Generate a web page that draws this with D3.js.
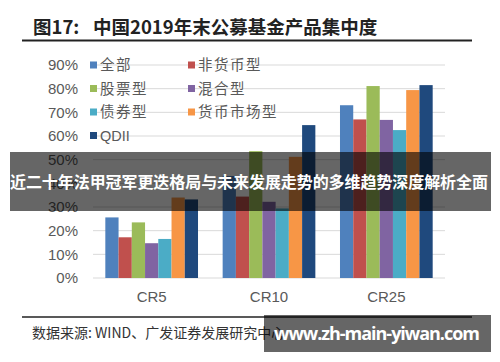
<!DOCTYPE html>
<html>
<head>
<meta charset="utf-8">
<script src="https://cdn.jsdelivr.net/npm/d3@7/dist/d3.min.js"></script>
<style>
  body { margin: 0; background: #fff; }
  svg { display: block; }
</style>
</head>
<body>
<div id="chart"></div>
<script>
// data
var categories = ["CR5", "CR10", "CR25"];
var seriesNames = ["全部", "非货币型", "股票型", "混合型", "债券型", "货币市场型", "QDII"];
var seriesColors = ["#4F81BD", "#C0504D", "#9BBB59", "#8064A2", "#4BACC6", "#F79646", "#1F497D"];
var quanbu     = [0.256, 0.431, 0.730];
var feihuobi   = [0.172, 0.344, 0.670];
var gupiao     = [0.235, 0.536, 0.811];
var hunhe      = [0.147, 0.322, 0.668];
var zhaiquan   = [0.165, 0.294, 0.625];
var huobi      = [0.340, 0.512, 0.794];
var qdii       = [0.332, 0.646, 0.815];
var yTicks = [0, 0.1, 0.2, 0.3, 0.4, 0.5, 0.6, 0.7, 0.8, 0.9];

var seriesValues = [quanbu, feihuobi, gupiao, hunhe, zhaiquan, huobi, qdii];

var width = 500, height = 362;
var svg = d3.select("#chart").append("svg")
    .attr("width", width)
    .attr("height", height);

// title
svg.append("text")
    .attr("x", 33).attr("y", 34)
    .attr("font-family", "'Noto Sans CJK SC', sans-serif")
    .attr("font-weight", "bold")
    .attr("font-size", 18.5)
    .attr("fill", "#222")
    .text("图17:");
svg.append("text")
    .attr("x", 93).attr("y", 34)
    .attr("font-family", "'Noto Sans CJK SC', sans-serif")
    .attr("font-weight", "bold")
    .attr("font-size", 18.5)
    .attr("fill", "#222")
    .text("中国2019年末公募基金产品集中度");

svg.append("line")
    .attr("x1", 22).attr("x2", 472)
    .attr("y1", 40.5).attr("y2", 40.5)
    .attr("stroke", "#222").attr("stroke-width", 2);

// scales
var x0 = d3.scaleBand()
    .domain(categories)
    .range([93, 445])
    .paddingInner(0.21)
    .paddingOuter(0.105);

var x1 = d3.scaleBand()
    .domain(seriesNames)
    .range([0, x0.bandwidth()]);

var y = d3.scaleLinear()
    .domain([0, 0.9])
    .range([278, 65]);

// gridlines
svg.append("g").selectAll("line")
    .data(yTicks)
    .enter().append("line")
    .attr("x1", 93).attr("x2", 445)
    .attr("y1", function (d) { return y(d); })
    .attr("y2", function (d) { return y(d); })
    .attr("stroke", "#d9d9d9")
    .attr("stroke-width", 1);

// y axis labels
var yAxis = d3.axisLeft(y)
    .tickValues(yTicks)
    .tickFormat(d3.format(".0%"))
    .tickSize(0)
    .tickPadding(0);

var yg = svg.append("g")
    .attr("transform", "translate(78,0)")
    .call(yAxis);
yg.select(".domain").remove();
yg.selectAll("text")
    .attr("font-family", "'Liberation Sans', Arial, sans-serif")
    .attr("font-size", 15)
    .attr("fill", "#595959");

// x axis labels
var xAxis = d3.axisBottom(x0).tickSize(0).tickPadding(0);
var xg = svg.append("g")
    .attr("transform", "translate(0,291)")
    .call(xAxis);
xg.select(".domain").remove();
xg.selectAll("text")
    .attr("font-family", "'Liberation Sans', Arial, sans-serif")
    .attr("font-size", 15)
    .attr("fill", "#595959");

// bars
var group = svg.append("g").selectAll("g")
    .data(categories)
    .enter().append("g")
    .attr("transform", function (d) { return "translate(" + x0(d) + ",0)"; });

group.selectAll("rect")
    .data(function (c, ci) {
        return seriesNames.map(function (s, si) {
            return { name: s, value: seriesValues[si][ci], color: seriesColors[si] };
        });
    })
    .enter().append("rect")
    .attr("x", function (d) { return x1(d.name); })
    .attr("y", function (d) { return y(d.value); })
    .attr("width", x1.bandwidth())
    .attr("height", function (d) { return y(0) - y(d.value); })
    .attr("fill", function (d) { return d.color; });

// legend
var legend = svg.append("g").selectAll("g")
    .data(seriesNames)
    .enter().append("g")
    .attr("transform", function (d, i) {
        return "translate(" + (90 + (i % 2) * 98) + "," + (65 + Math.floor(i / 2) * 23.5) + ")";
    });

legend.append("rect")
    .attr("x", 0).attr("y", -3.5)
    .attr("width", 7).attr("height", 7)
    .attr("fill", function (d, i) { return seriesColors[i]; });

legend.append("text")
    .attr("x", 10).attr("y", 0)
    .attr("dy", "0.35em")
    .attr("font-family", function (d) {
        return d === "QDII" ? "'Liberation Sans', Arial, sans-serif" : "'Noto Sans CJK SC', sans-serif";
    })
    .attr("font-size", 14.5)
    .attr("letter-spacing", function (d) { return d === "QDII" ? 0 : 1.5; })
    .attr("fill", "#595959")
    .text(function (d) { return d; });

// source line
svg.append("line")
    .attr("x1", 22).attr("x2", 472)
    .attr("y1", 317).attr("y2", 317)
    .attr("stroke", "#222").attr("stroke-width", 1.5);

svg.append("text")
    .attr("x", 32).attr("y", 338)
    .attr("font-family", "'Noto Sans CJK SC', sans-serif")
    .attr("font-size", 14)
    .attr("fill", "#333")
    .text("数据来源: WIND、广发证券发展研究中心");

// overlay banner
svg.append("rect")
    .attr("x", 10).attr("y", 152)
    .attr("width", 481).attr("height", 59)
    .attr("fill", "rgba(0,0,0,0.6)");

svg.append("text")
    .attr("x", 10).attr("y", 188)
    .attr("font-family", "'Noto Sans CJK SC', sans-serif")
    .attr("font-weight", "bold")
    .attr("font-size", 16)
    .attr("textLength", 478)
    .attr("fill", "#fff")
    .text("近二十年法甲冠军更迭格局与未来发展走势的多维趋势深度解析全面");

// watermark box
svg.append("rect")
    .attr("x", 264).attr("y", 315)
    .attr("width", 227).attr("height", 37)
    .attr("fill", "rgba(0,0,0,0.6)");

svg.append("text")
    .attr("x", 274).attr("y", 340)
    .attr("font-family", "'Open Sans', 'Noto Sans', sans-serif")
    .attr("font-weight", "bold")
    .attr("font-size", 18)
    .attr("textLength", 206)
    .attr("fill", "#fff")
    .text("www.zh-main-yiwan.com");
</script>
</body>
</html>
